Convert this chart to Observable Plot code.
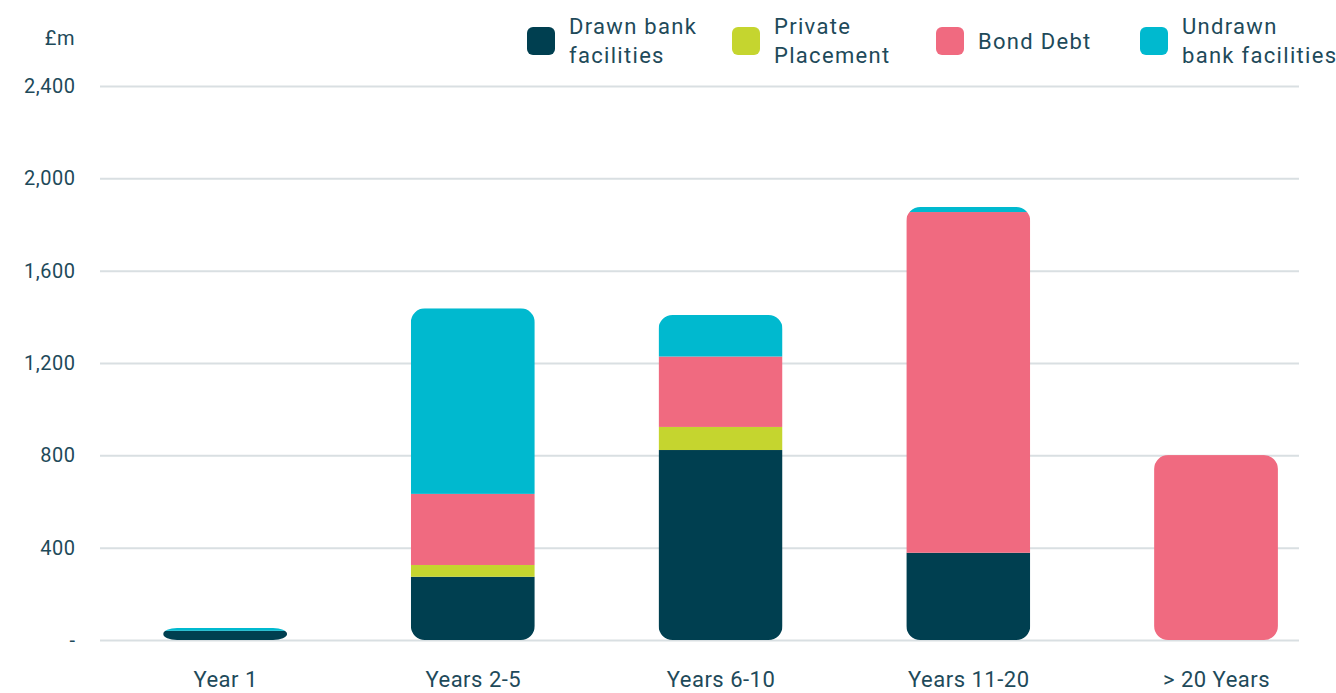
<!DOCTYPE html>
<html>
<head>
<meta charset="utf-8">
<script src="https://cdn.jsdelivr.net/npm/d3@7"></script>
<script src="https://cdn.jsdelivr.net/npm/@observablehq/plot@0.6"></script>
<style>
  html, body { margin: 0; padding: 0; background: #fff; }
  body { width: 1336px; height: 693px; overflow: hidden; font-family: Roboto, "Open Sans", sans-serif; color: #1e4a5a; }
  #header { position: relative; height: 70px; }
  .unit { position: absolute; right: calc(1336px - 75px); top: 26px; font-size: 20px; letter-spacing: 0.5px; }
  .item { position: absolute; top: 6px; height: 70px; display: flex; align-items: center; }
  .sw { width: 28px; height: 28px; border-radius: 6px; margin-right: 14px; flex: none; }
  .lab { font-size: 22px; line-height: 29px; letter-spacing: 1.3px; white-space: nowrap; }
</style>
</head>
<body>
<div id="header"></div>
<div id="chart"></div>
<script>
const categories = ["Year 1", "Years 2-5", "Years 6-10", "Years 11-20", "> 20 Years"];
const seriesNames = ["Drawn bank facilities", "Private Placement", "Bond Debt", "Undrawn bank facilities"];
const legendLabels = [["Drawn bank", "facilities"], ["Private", "Placement"], ["Bond Debt"], ["Undrawn", "bank facilities"]];
const seriesColors = ["#003f50", "#c5d52f", "#f06a80", "#00b9cf"];
const drawn = [40, 274, 823, 378, 0];
const privatePlacement = [0, 51, 100, 0, 0];
const bondDebt = [0, 308, 305, 1476, 801];
const undrawn = [12, 804, 180, 22, 0];
const yTicks = [0, 400, 800, 1200, 1600, 2000, 2400];
const unitLabel = "£m";

const seriesValues = [drawn, privatePlacement, bondDebt, undrawn];
const rows = [];
categories.forEach((c, i) => seriesNames.forEach((s, j) => rows.push({category: c, series: s, value: seriesValues[j][i]})));
const totals = categories.map((c, i) => ({category: c, total: seriesValues.reduce((a, arr) => a + arr[i], 0)}));

// header: unit + legend
const header = document.getElementById("header");
const unit = document.createElement("div");
unit.className = "unit"; unit.textContent = unitLabel; header.appendChild(unit);
const legendLeft = [527, 732, 936, 1140];
seriesNames.forEach((s, j) => {
  const item = document.createElement("div");
  item.className = "item"; item.style.left = legendLeft[j] + "px";
  const sw = document.createElement("div"); sw.className = "sw"; sw.style.background = seriesColors[j];
  const lab = document.createElement("div"); lab.className = "lab";
  lab.innerHTML = legendLabels[j].join("<br>");
  item.appendChild(sw); item.appendChild(lab); header.appendChild(item);
});

const chart = Plot.plot({
  width: 1336,
  height: 623,
  marginTop: 16,
  marginBottom: 53,
  marginLeft: 100,
  marginRight: 37,
  style: {fontFamily: "Roboto, 'Open Sans', sans-serif", fontSize: "20px", color: "#1e4a5a", background: "#fff", letterSpacing: "0.5px"},
  x: {domain: categories, paddingInner: 0.5, paddingOuter: 0.17, align: 0.75, round: false, label: null},
  y: {domain: [0, 2400], label: null},
  color: {domain: seriesNames, range: seriesColors},
  marks: [
    Plot.ruleY(yTicks, {stroke: "#d9dfe2", strokeWidth: 2}),
    Plot.barY(totals, {x: "category", y: "total", fill: "none", rx: 14, className: "clipbars"}),
    Plot.barY(rows, {x: "category", y: "value", fill: "series", order: seriesNames, className: "stackbars"}),
    Plot.axisY({ticks: yTicks, tickSize: 0, tickPadding: 25, tickFormat: d => d === 0 ? "-" : d3.format(",")(d), fontSize: 20}),
    Plot.axisX({tickSize: 0, tickPadding: 31, fontSize: 22, style: {letterSpacing: "0.9px"}})
  ]
});
document.getElementById("chart").appendChild(chart);

// Round the outer corners of each stacked bar by clipping it with the rounded total bar
const svg = chart.tagName.toLowerCase() === "svg" ? chart : chart.querySelector("svg");
const ns = "http://www.w3.org/2000/svg";
const clipG = svg.querySelector("g.clipbars");
const stackG = svg.querySelector("g.stackbars");
if (clipG && stackG) {
  const defs = document.createElementNS(ns, "defs");
  const cp = document.createElementNS(ns, "clipPath");
  cp.setAttribute("id", "barclip");
  clipG.querySelectorAll("rect").forEach(r => {
    const rr = r.cloneNode(true);
    if (!rr.getAttribute("ry")) rr.setAttribute("ry", r.getAttribute("rx") || 14);
    cp.appendChild(rr);
  });
  defs.appendChild(cp);
  svg.insertBefore(defs, svg.firstChild);
  stackG.setAttribute("clip-path", "url(#barclip)");
  clipG.remove();
}
</script>
</body>
</html>
